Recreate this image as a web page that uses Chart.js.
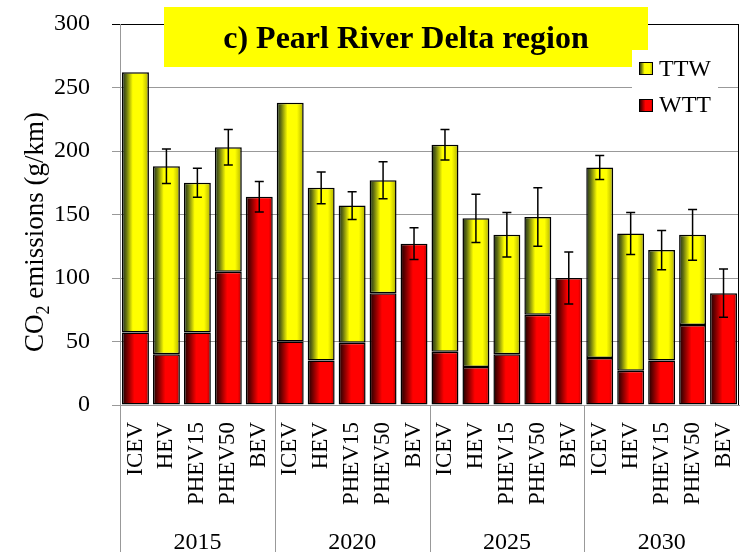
<!DOCTYPE html>
<html>
<head>
<meta charset="utf-8">
<title>Pearl River Delta region</title>
<script src="https://cdn.jsdelivr.net/npm/chart.js@4.4.1/dist/chart.umd.min.js"></script>
<style>
  html, body { margin: 0; padding: 0; background: #fff; }
  #wrap { width: 741px; height: 552px; }
</style>
</head>
<body>
<div id="wrap"><canvas id="myChart" width="741" height="552"></canvas></div>
<script>
'use strict';

const years = ['2015', '2020', '2025', '2030'];
const vehicles = ['ICEV', 'HEV', 'PHEV15', 'PHEV50', 'BEV'];
// well-to-tank part (red), bottom of each stack
const wtt = [57, 40, 57, 105, 164, 50, 35, 49, 88, 127, 42, 30, 40, 71, 100, 37, 27, 35, 63, 88];
// tank-to-wheel part (yellow), BEV has none
const ttw = [205, 148, 118, 98, null, 188, 136, 108, 89, null, 163, 117, 94, 77, null, 150, 108, 87, 71, null];
// +/- error on the stack total
const errors = [0, 13.5, 11.5, 14, 12, 0, 12.5, 11, 14.5, 12.5, 12, 19, 17.5, 23, 20.5, 9.5, 16.5, 15.5, 20, 19];
const yTicks = [0, 50, 100, 150, 200, 250, 300];

// one category per vehicle per year
const labels = years.flatMap(() => vehicles);

const serif = "'Liberation Serif', 'Times New Roman', serif";
const BAR_PCT = 0.87;
const yellowStops = [[0, '#1c2e1c'], [0.15, '#5f6c12'], [0.4, '#ffff00'], [0.75, '#ffff00'], [0.92, '#c8c800'], [1, '#4e5a10']];
const redStops = [[0, '#160000'], [0.17, '#6a0000'], [0.46, '#ff0000'], [0.85, '#ff0000'], [1, '#a80000']];

function makeGradient(ctx, left, right, stops) {
  let g = ctx.createLinearGradient(left, 0, right, 0);
  stops.forEach(s => g.addColorStop(s[0], s[1]));
  return g;
}

// horizontal shading across each bar, worked out from the x scale
function barFill(stops) {
  return (context) => {
    const chart = context.chart;
    const xScale = chart.scales.x;
    if (!xScale || context.dataIndex === undefined) {
      return stops[2][1];
    }
    const slot = xScale.width / labels.length;
    const cx = xScale.getPixelForValue(context.dataIndex);
    const half = slot * BAR_PCT / 2;
    if (!isFinite(cx) || !isFinite(half) || half <= 0) {
      return stops[2][1];
    }
    return makeGradient(chart.ctx, cx - half, cx + half, stops);
  };
}

const errorBars = {
  id: 'errorBars',
  afterDatasetsDraw(chart) {
    const { ctx, scales: { x, y } } = chart;
    ctx.save();
    ctx.strokeStyle = '#000';
    ctx.lineWidth = 1.5;
    errors.forEach((err, i) => {
      if (!err) return;
      const total = wtt[i] + (ttw[i] || 0);
      const px = x.getPixelForValue(i);
      const top = y.getPixelForValue(total + err);
      const bottom = y.getPixelForValue(total - err);
      ctx.beginPath();
      ctx.moveTo(px, top);
      ctx.lineTo(px, bottom);
      ctx.moveTo(px - 4.5, top);
      ctx.lineTo(px + 4.5, top);
      ctx.moveTo(px - 4.5, bottom);
      ctx.lineTo(px + 4.5, bottom);
      ctx.stroke();
    });
    ctx.restore();
  }
};

const decorations = {
  id: 'decorations',
  afterDraw(chart) {
    const { ctx, chartArea, scales: { x } } = chart;
    const slot = x.width / labels.length;
    ctx.save();

    // right frame line
    ctx.strokeStyle = '#000';
    ctx.lineWidth = 1;
    ctx.beginPath();
    ctx.moveTo(Math.round(chartArea.right) - 0.5, chartArea.top);
    ctx.lineTo(Math.round(chartArea.right) - 0.5, chartArea.bottom);
    ctx.stroke();

    // group separators and year labels under the axis
    ctx.strokeStyle = '#999';
    ctx.fillStyle = '#000';
    ctx.font = `24px ${serif}`;
    ctx.textAlign = 'center';
    ctx.textBaseline = 'alphabetic';
    years.forEach((yr, g) => {
      const first = g * vehicles.length;
      const last = first + vehicles.length - 1;
      const left = Math.round(x.getPixelForValue(first) - slot / 2) + 0.5;
      ctx.beginPath();
      ctx.moveTo(left, chartArea.bottom);
      ctx.lineTo(left, chart.height);
      ctx.stroke();
      const mid = (x.getPixelForValue(first) + x.getPixelForValue(last)) / 2;
      ctx.fillText(yr, mid, 549);
    });

    // y axis title with subscript 2
    ctx.save();
    ctx.translate(43, 232);
    ctx.rotate(-Math.PI / 2);
    ctx.textAlign = 'left';
    ctx.font = `27px ${serif}`;
    const wCO = ctx.measureText('CO').width;
    const rest = ' emissions (g/km)';
    const wRest = ctx.measureText(rest).width;
    ctx.font = `18px ${serif}`;
    const w2 = ctx.measureText('2').width;
    let start = -(wCO + w2 + wRest) / 2;
    ctx.font = `27px ${serif}`;
    ctx.fillText('CO', start, 0);
    ctx.font = `18px ${serif}`;
    ctx.fillText('2', start + wCO, 6);
    ctx.font = `27px ${serif}`;
    ctx.fillText(rest, start + wCO + w2, 0);
    ctx.restore();

    // title box
    ctx.fillStyle = '#ffff00';
    ctx.fillRect(164, 7, 484, 60);
    ctx.fillStyle = '#000';
    ctx.font = `bold 32px ${serif}`;
    ctx.textAlign = 'center';
    ctx.fillText('c) Pearl River Delta region', 406, 48);

    // legend
    ctx.fillStyle = '#fff';
    ctx.fillRect(632, 50, 86, 72);
    const items = [['TTW', yellowStops, 62, 75.5], ['WTT', redStops, 99, 112]];
    items.forEach(item => {
      ctx.fillStyle = makeGradient(ctx, 639, 653, item[1]);
      ctx.fillRect(639, item[2], 14, 13);
      ctx.strokeStyle = '#000';
      ctx.strokeRect(639.5, item[2] + 0.5, 13, 12);
      ctx.fillStyle = '#000';
      ctx.font = `24px ${serif}`;
      ctx.textAlign = 'left';
      ctx.fillText(item[0], 659, item[3]);
    });

    ctx.restore();
  }
};

let ctx = document.getElementById('myChart');
let myChart = new Chart(ctx, {
  type: 'bar',
  data: {
    labels: labels,
    datasets: [{
      label: 'WTT',
      data: wtt,
      backgroundColor: barFill(redStops),
      borderColor: '#000',
      borderWidth: 1.5,
      borderSkipped: false,
      categoryPercentage: BAR_PCT,
      barPercentage: 1
    }, {
      label: 'TTW',
      data: ttw,
      backgroundColor: barFill(yellowStops),
      borderColor: '#000',
      borderWidth: 1.5,
      borderSkipped: false,
      categoryPercentage: BAR_PCT,
      barPercentage: 1
    }]
  },
  options: {
    responsive: false,
    animation: false,
    layout: { padding: { top: 24, right: 2, left: 0, bottom: 0 } },
    plugins: {
      legend: { display: false },
      tooltip: { enabled: false },
      title: { display: false }
    },
    scales: {
      x: {
        stacked: true,
        afterFit: (scale) => {
          scale.height = 147;
          scale.paddingLeft = 0;
          scale.paddingRight = 0;
        },
        grid: { display: false, drawTicks: false },
        border: { display: true, color: '#999' },
        ticks: {
          autoSkip: false,
          maxRotation: 90,
          minRotation: 90,
          padding: 17,
          color: '#000',
          font: { family: serif, size: 23 }
        }
      },
      y: {
        stacked: true,
        min: yTicks[0],
        max: yTicks[yTicks.length - 1],
        afterFit: (scale) => {
          scale.width = 120;
          scale.paddingTop = 0;
          scale.paddingBottom = 0;
        },
        grid: {
          color: (c) => (c.tick && c.tick.value === yTicks[yTicks.length - 1] ? '#000' : '#999'),
          lineWidth: 1,
          tickLength: 8
        },
        border: { display: true, color: '#999' },
        ticks: {
          stepSize: yTicks[1] - yTicks[0],
          padding: 22,
          color: '#000',
          font: { family: serif, size: 24 }
        }
      }
    }
  },
  plugins: [errorBars, decorations]
});
</script>
</body>
</html>
